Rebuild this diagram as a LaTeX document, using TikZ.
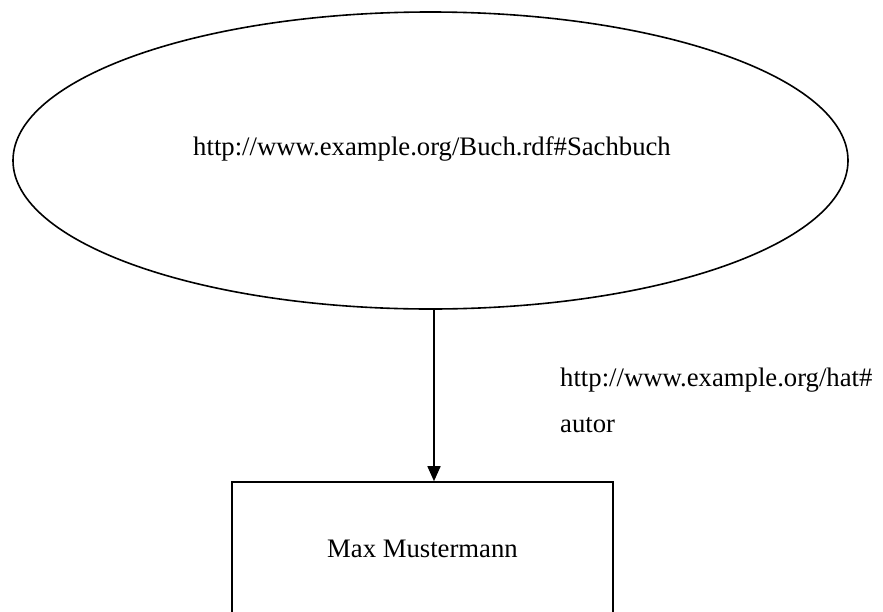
\documentclass[tikz,border=0pt]{standalone}
\usepackage{fontspec}
\setmainfont{Liberation Serif}
\usetikzlibrary{arrows.meta,shapes.geometric}
\begin{document}
\begin{tikzpicture}[x=1pt,y=-1pt,
  shapeline/.style={draw=black,line width=1.6pt},
  txt/.style={inner sep=0pt,font=\fontsize{26.7}{46}\selectfont},
  link/.style={line width=1.6pt,-{Triangle[length=15pt,width=13pt]}}]
  \useasboundingbox[fill=white] (0,0) rectangle (883,611);
  \clip (0,0) rectangle (883,611);
  % resource (ellipse) and its URI
  \node[ellipse,shapeline,minimum width=835pt,minimum height=297pt,inner sep=0pt] (res) at (430.5,160.5) {};
  \node[txt,anchor=base] (restext) at (432,155) {http://www.example.org/Buch.rdf\#Sachbuch};
  % literal (rectangle), bottom runs past the page edge
  \node[rectangle,shapeline,minimum width=381pt,minimum height=160pt,inner sep=0pt] (lit) at (422.5,562) {};
  \node[txt,anchor=base] (littext) at (422.5,557) {Max Mustermann};
  % property arrow and its label
  \coordinate (axis) at (434,0);
  \draw[link] (res.south -| axis) -- (lit.north -| axis);
  \node[txt,anchor=base west,align=left] (prop) at (560,432) {http://www.example.org/hat\#\\autor};
\end{tikzpicture}
\end{document}
